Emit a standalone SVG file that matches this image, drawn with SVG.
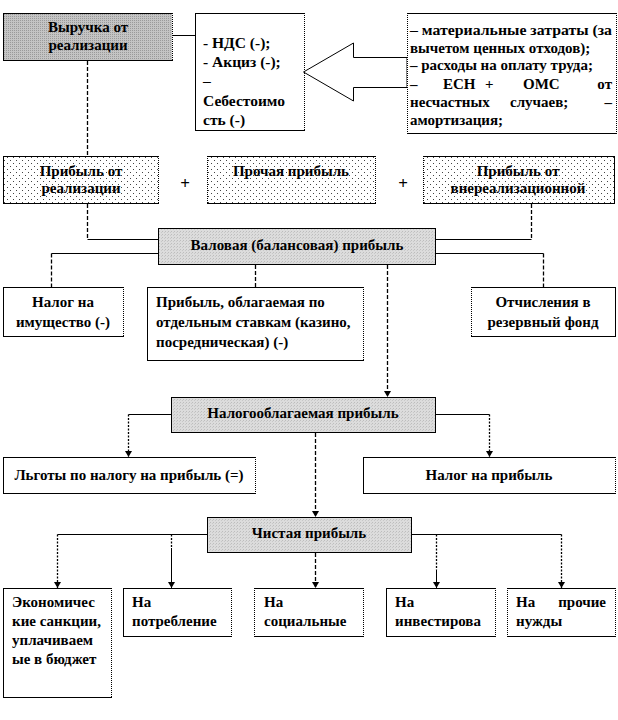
<svg xmlns="http://www.w3.org/2000/svg" width="618" height="720" viewBox="0 0 618 720">
<defs>
<pattern id="dots" width="6" height="6" patternUnits="userSpaceOnUse">
<rect width="6" height="6" fill="#ffffff"/>
<rect x="1" y="1" width="1" height="1" fill="#444"/>
<rect x="4" y="4" width="1" height="1" fill="#444"/>
</pattern>
<pattern id="grayTex" width="2" height="2" patternUnits="userSpaceOnUse">
<rect width="2" height="2" fill="#c4c4c4"/>
<rect x="0" y="0" width="1" height="1" fill="#9a9a9a"/>
</pattern>
<pattern id="lightTex" width="3" height="3" patternUnits="userSpaceOnUse">
<rect width="3" height="3" fill="#dcdcdc"/>
<rect x="0" y="0" width="1" height="1" fill="#bdbdbd"/>
<rect x="2" y="1" width="1" height="1" fill="#c8c8c8"/>
</pattern>
<marker id="arr" markerUnits="userSpaceOnUse" markerWidth="7" markerHeight="7" refX="6" refY="3.5" orient="auto">
<path d="M0,0 L6,3.5 L0,7 z" fill="#000"/>
</marker>
</defs>
<style>
text{font-family:"Liberation Serif","Times New Roman",serif;font-weight:bold;font-size:15px;fill:#000}
.c{text-anchor:middle}
.e{text-anchor:end}
.box{fill:#fff;stroke:#000;stroke-width:1}
.gray{fill:url(#grayTex);stroke:#000;stroke-width:1}
.light{fill:url(#lightTex);stroke:#000;stroke-width:1}
.dot{fill:url(#dots);stroke:#000;stroke-width:1}
.dr{stroke:#fff;stroke-width:1.2;stroke-dasharray:1 1}
.solid{stroke:#000;stroke-width:1;fill:none}
.dash{stroke:#000;stroke-width:1.3;fill:none;stroke-dasharray:4 2}
.dotted{stroke:#000;stroke-width:1.3;fill:none;stroke-dasharray:2 1.5}
.nds{font-size:15.5px}
.plus{font-size:17px}
</style>

<g id="n-vyruchka">
<rect class="gray" x="3.5" y="13.5" width="169" height="47"/>
<line class="dr" x1="172.5" y1="14" x2="172.5" y2="60"/>
<text class="c" x="88" y="32">Выручка от</text>
<text class="c" x="88" y="50">реализации</text>
</g>

<g id="n-nds">
<rect class="box" x="195.5" y="13.5" width="109" height="117"/>
<line class="dr" x1="304.5" y1="14" x2="304.5" y2="130"/>
<text class="nds" x="203" y="48">- НДС (-);</text>
<text class="nds" x="203" y="67">- Акциз (-);</text>
<text class="nds" x="203" y="86">–</text>
<text class="nds" x="203" y="106">Себестоимо</text>
<text class="nds" x="203" y="125">сть (-)</text>
</g>

<g id="n-arrow">
<polygon points="407,57.5 353.5,57.5 353.5,43 303.5,72 353.5,101 353.5,87.5 407,87.5" fill="#fff" stroke="#000" stroke-width="1"/>
</g>

<g id="n-costs">
<rect class="box" x="407.5" y="13.5" width="209" height="120"/>
<line class="dr" x1="616.5" y1="14" x2="616.5" y2="133"/>
<line class="dr" x1="407.5" y1="14" x2="407.5" y2="133"/>
<text x="410" y="35" textLength="202" lengthAdjust="spacingAndGlyphs">– материальные  затраты  (за</text>
<text x="410" y="53">вычетом ценных отходов);</text>
<text x="410" y="70">– расходы на оплату труда;</text>
<text y="89"><tspan x="410">–</tspan><tspan x="443">ЕСН</tspan><tspan x="485">+</tspan><tspan x="523">ОМС</tspan></text>
<text class="e" x="612" y="89">от</text>
<text y="107"><tspan x="410">несчастных</tspan><tspan x="510">случаев;</tspan></text>
<text class="e" x="612" y="107">–</text>
<text x="410" y="125">амортизация;</text>
</g>

<g id="n-prib-real">
<rect class="dot" x="3.5" y="156.5" width="155" height="47"/>
<line class="dr" x1="158.5" y1="157" x2="158.5" y2="203"/>
<text class="c" x="81" y="176">Прибыль от</text>
<text class="c" x="81" y="193">реализации</text>
</g>
<g id="n-plus1"><text class="c plus" x="185" y="189">+</text></g>
<g id="n-prochaya">
<rect class="dot" x="207.5" y="156.5" width="168" height="47"/>
<line class="dr" x1="207.5" y1="157" x2="207.5" y2="203"/>
<line class="dr" x1="375.5" y1="157" x2="375.5" y2="203"/>
<text class="c" x="291" y="176">Прочая прибыль</text>
</g>
<g id="n-plus2"><text class="c plus" x="403" y="189">+</text></g>
<g id="n-vnereal">
<rect class="dot" x="423.5" y="156.5" width="191" height="47"/>
<line class="dr" x1="423.5" y1="157" x2="423.5" y2="203"/>
<text class="c" x="518" y="176">Прибыль от</text>
<text class="c" x="518" y="193">внереализационной</text>
</g>

<g id="n-valovaya">
<rect class="light" x="158.5" y="228.5" width="277" height="36"/>
<text class="c" x="297" y="250">Валовая (балансовая) прибыль</text>
</g>

<g id="n-nalog-imush">
<rect class="box" x="3.5" y="287.5" width="120" height="49"/>
<line class="dr" x1="123.5" y1="288" x2="123.5" y2="336"/>
<text class="c" x="63" y="307">Налог на</text>
<text class="c" x="63" y="327">имущество (-)</text>
</g>

<g id="n-otd-stavki">
<rect class="box" x="147.5" y="287.5" width="216" height="73"/>
<line class="dr" x1="363.5" y1="288" x2="363.5" y2="360"/>
<text x="156" y="307">Прибыль, облагаемая по</text>
<text x="156" y="327">отдельным ставкам (казино,</text>
<text x="156" y="347">посредническая) (-)</text>
</g>

<g id="n-otchisl">
<rect class="box" x="471.5" y="287.5" width="144" height="49"/>
<line class="dr" x1="471.5" y1="288" x2="471.5" y2="336"/>
<text class="c" x="543" y="307">Отчисления в</text>
<text class="c" x="543" y="327">резервный фонд</text>
</g>

<g id="n-nalogoobl">
<rect class="light" x="171.5" y="397.5" width="264" height="35"/>
<text class="c" x="303" y="418">Налогооблагаемая  прибыль</text>
</g>

<g id="n-lgoty">
<rect class="box" x="3.5" y="457.5" width="252" height="36"/>
<line class="dr" x1="255.5" y1="458" x2="255.5" y2="493"/>
<text class="c" x="129" y="480">Льготы по налогу на прибыль (=)</text>
</g>

<g id="n-nalog-prib">
<rect class="box" x="363.5" y="457.5" width="252" height="36"/>
<line class="dr" x1="615.5" y1="458" x2="615.5" y2="493"/>
<text class="c" x="489" y="480">Налог на прибыль</text>
</g>

<g id="n-chistaya">
<rect class="light" x="207.5" y="517.5" width="204" height="35"/>
<text class="c" x="309" y="538">Чистая прибыль</text>
</g>

<g id="n-sankcii">
<rect class="box" x="3.5" y="588.5" width="108" height="109"/>
<line class="dr" x1="111.5" y1="589" x2="111.5" y2="697"/>
<text x="12" y="607">Экономичес</text>
<text x="12" y="626">кие санкции,</text>
<text x="12" y="645">уплачиваем</text>
<text x="12" y="664">ые в бюджет</text>
</g>

<g id="n-potreb">
<rect class="box" x="123.5" y="588.5" width="108" height="48"/>
<line class="dr" x1="231.5" y1="589" x2="231.5" y2="636"/>
<text x="132" y="607">На</text>
<text x="132" y="626">потребление</text>
</g>

<g id="n-social">
<rect class="box" x="254.5" y="588.5" width="109" height="48"/>
<line class="dr" x1="254.5" y1="589" x2="254.5" y2="636"/>
<line class="dr" x1="363.5" y1="589" x2="363.5" y2="636"/>
<text x="264" y="607">На</text>
<text x="264" y="626">социальные</text>
</g>

<g id="n-invest">
<rect class="box" x="386.5" y="588.5" width="109" height="48"/>
<line class="dr" x1="495.5" y1="589" x2="495.5" y2="636"/>
<text x="395" y="607">На</text>
<text x="395" y="626">инвестирова</text>
</g>

<g id="n-prochie">
<rect class="box" x="507.5" y="588.5" width="108" height="48"/>
<line class="dr" x1="507.5" y1="589" x2="507.5" y2="636"/>
<line class="dr" x1="615.5" y1="589" x2="615.5" y2="636"/>
<text x="516" y="607">На</text>
<text class="e" x="606" y="607">прочие</text>
<text x="516" y="626">нужды</text>
</g>

<g id="connectors">
<line class="solid" x1="172" y1="35.5" x2="195" y2="35.5"/>
<line class="dash" x1="87.5" y1="61" x2="87.5" y2="156"/>
<line class="dash" x1="87.5" y1="204" x2="87.5" y2="239.5"/>
<line class="solid" x1="87.5" y1="239.5" x2="158" y2="239.5"/>
<line class="dash" x1="531.5" y1="204" x2="531.5" y2="239.5"/>
<line class="solid" x1="531.5" y1="239.5" x2="436" y2="239.5"/>
<line class="solid" x1="158" y1="253.5" x2="51.5" y2="253.5"/>
<line class="dash" x1="51.5" y1="253.5" x2="51.5" y2="287"/>
<line class="solid" x1="436" y1="253.5" x2="543.5" y2="253.5"/>
<line class="dash" x1="543.5" y1="253.5" x2="543.5" y2="287"/>
<line class="dash" x1="255.5" y1="265" x2="255.5" y2="287"/>
<line class="dash" x1="387.5" y1="265" x2="387.5" y2="397" marker-end="url(#arr)"/>
<line class="solid" x1="171" y1="414.5" x2="128.5" y2="414.5"/>
<line class="dotted" x1="128.5" y1="414.5" x2="128.5" y2="457" marker-end="url(#arr)"/>
<line class="solid" x1="436" y1="414.5" x2="489.5" y2="414.5"/>
<line class="dotted" x1="489.5" y1="414.5" x2="489.5" y2="457" marker-end="url(#arr)"/>
<line class="dash" x1="315.5" y1="433" x2="315.5" y2="517" marker-end="url(#arr)"/>
<line class="solid" x1="207" y1="534.5" x2="57.5" y2="534.5"/>
<line class="dotted" x1="57.5" y1="534.5" x2="57.5" y2="588" marker-end="url(#arr)"/>
<line class="dotted" x1="171.5" y1="534.5" x2="171.5" y2="548"/>
<line class="solid" x1="171.5" y1="548" x2="171.5" y2="588" marker-end="url(#arr)"/>
<line class="dash" x1="315.5" y1="553" x2="315.5" y2="588" marker-end="url(#arr)"/>
<line class="solid" x1="412" y1="534.5" x2="561.5" y2="534.5"/>
<line class="dotted" x1="436.5" y1="534.5" x2="436.5" y2="570"/>
<line class="solid" x1="436.5" y1="570" x2="436.5" y2="588" marker-end="url(#arr)"/>
<line class="dotted" x1="561.5" y1="534.5" x2="561.5" y2="588" marker-end="url(#arr)"/>
</g>
</svg>
